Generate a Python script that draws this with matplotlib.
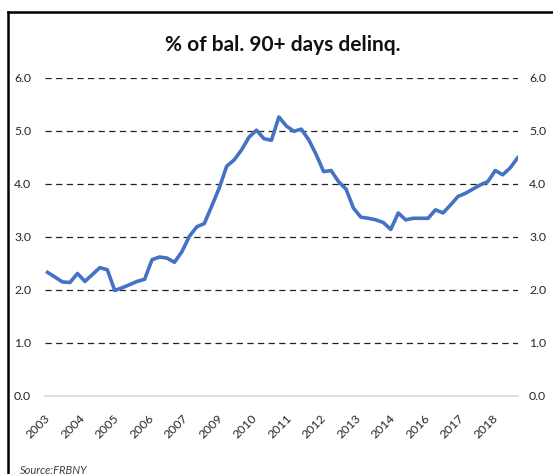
import matplotlib
matplotlib.use("Agg")
import matplotlib.pyplot as plt
from matplotlib.lines import Line2D
import numpy as np

# Auto loans, % of balance 90+ days delinquent, quarterly 2003Q1 - 2018Q4
delinq = [2.33, 2.24, 2.15, 2.14, 2.31, 2.16, 2.29, 2.42,
          2.38, 1.99, 2.04, 2.10, 2.16, 2.20, 2.57, 2.62,
          2.60, 2.52, 2.72, 3.01, 3.19, 3.25, 3.58, 3.92,
          4.33, 4.45, 4.64, 4.88, 5.01, 4.85, 4.82, 5.26,
          5.09, 4.99, 5.03, 4.83, 4.55, 4.23, 4.25, 4.04,
          3.90, 3.54, 3.37, 3.35, 3.32, 3.27, 3.14, 3.45,
          3.32, 3.35, 3.35, 3.35, 3.51, 3.45, 3.60, 3.76,
          3.82, 3.90, 3.98, 4.04, 4.25, 4.17, 4.30, 4.49]
year_labels = ["2003", "2004", "2005", "2006", "2007", "2009", "2010",
               "2011", "2012", "2013", "2014", "2016", "2017", "2018"]
y_ticks = [0, 1, 2, 3, 4, 5, 6]

W, H = 553, 474
fig = plt.figure(figsize=(W / 100, H / 100), dpi=100)
fig.patch.set_facecolor("white")

font = ["Lato", "DejaVu Sans"]
txt_color = "#262626"

# axes box in pixel terms
left, right, top, bottom = 45, 518, 77.7, 396
ax = fig.add_axes([left / W, 1 - bottom / H, (right - left) / W, (bottom - top) / H])

x = np.arange(len(delinq))
ax.plot(x, delinq, color="#4472C4", lw=2.6, solid_joinstyle="round", zorder=3)

ax.set_xlim(-0.35, len(delinq) - 1 + 0.05)
ax.set_ylim(0, 6)

for s in ["top", "left", "right"]:
    ax.spines[s].set_visible(False)
ax.spines["bottom"].set_color("#d9d9d9")
ax.spines["bottom"].set_linewidth(1.2)

ax.set_yticks(y_ticks)
ax.set_yticklabels([f"{v:.1f}" for v in y_ticks], fontfamily=font, fontsize=8.8, color=txt_color)
ax.tick_params(axis="y", length=0, pad=10)
ax.yaxis.grid(True, color="#222222", linestyle=(0, (5, 3.5)), linewidth=0.9)
ax.get_ygridlines()[0].set_visible(False)
ax.set_axisbelow(True)

# labels on the right-hand side as well
ax2 = ax.twinx()
ax2.set_ylim(0, 6)
ax2.set_yticks(y_ticks)
ax2.set_yticklabels([f"{v:.1f}" for v in y_ticks], fontfamily=font, fontsize=8.8, color=txt_color)
ax2.tick_params(axis="y", length=0, pad=8)
for s in ax2.spines.values():
    s.set_visible(False)

tick_pos = np.linspace(0.6, 60.7, len(year_labels))
ax.set_xticks(tick_pos)
ax.set_xticklabels(year_labels, rotation=45, ha="right", fontfamily=font,
                   fontsize=8.8, color=txt_color)
ax.tick_params(axis="x", length=0, pad=12)

fig.text(283 / W, 1 - 45 / H, "% of bal. 90+ days delinq.", ha="center", va="center",
         fontfamily=font, fontsize=15, fontweight="bold", color="#111111")
fig.text(20 / W, 1 - 470 / H, "Source:FRBNY", ha="left", va="center",
         fontfamily=font, fontsize=8, style="italic", color="#404040")

# chart frame (left and top edges fall inside the picture)
fig.add_artist(Line2D([7.5 / W, 7.5 / W], [0, 1 - 12 / H], color="black", lw=1.8))
fig.add_artist(Line2D([7.5 / W, 1], [1 - 12 / H, 1 - 12 / H], color="black", lw=1.8))

fig.savefig("out.png", dpi=100, facecolor="white")
